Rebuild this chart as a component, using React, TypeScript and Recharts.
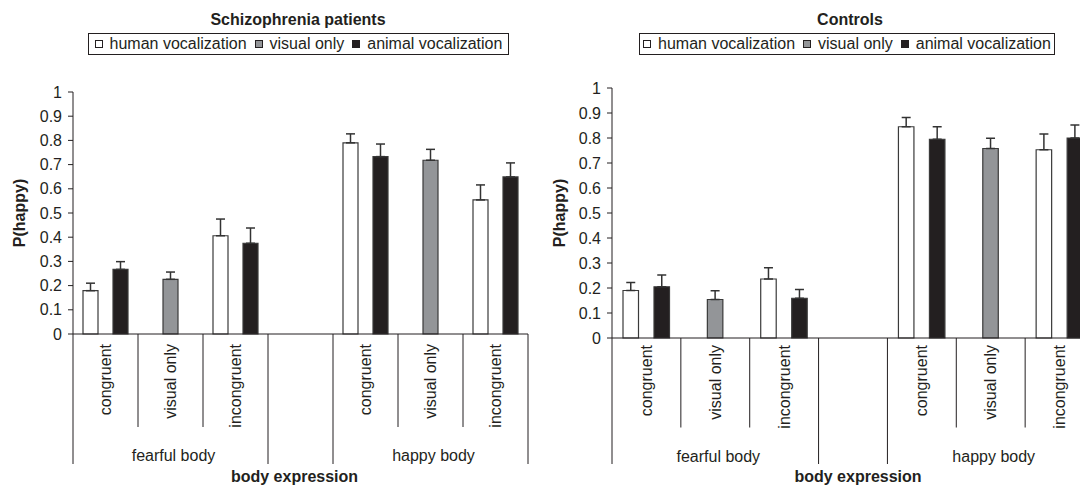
import React from 'react';
import { BarChart, Bar, XAxis, YAxis, ErrorBar, Legend } from 'recharts';

// x categories (slot 3 is the empty spacer between the two body groups)
const categories = ['congruent', 'visual only', 'incongruent', '', 'congruent', 'visual only', 'incongruent'];
const groupLabels = ['fearful body', 'happy body'];
const yTicks = [0, 0.1, 0.2, 0.3, 0.4, 0.5, 0.6, 0.7, 0.8, 0.9, 1];

const seriesNames = ['human vocalization', 'visual only', 'animal vocalization'];
const seriesColors = ['#ffffff', '#939598', '#231f20'];

// Schizophrenia patients: P(happy) and upper error
const humanSz = [0.179, null, 0.406, null, 0.79, null, 0.554];
const humanSzErr = [0.031, null, 0.069, null, 0.037, null, 0.062];
const visualSz = [null, 0.226, null, null, null, 0.718, null];
const visualSzErr = [null, 0.03, null, null, null, 0.045, null];
const animalSz = [0.267, null, 0.375, null, 0.733, null, 0.649];
const animalSzErr = [0.032, null, 0.063, null, 0.052, null, 0.058];

// Controls
const humanCt = [0.19, null, 0.236, null, 0.845, null, 0.753];
const humanCtErr = [0.032, null, 0.045, null, 0.037, null, 0.063];
const visualCt = [null, 0.154, null, null, null, 0.758, null];
const visualCtErr = [null, 0.035, null, null, null, 0.041, null];
const animalCt = [0.205, null, 0.159, null, 0.795, null, 0.8];
const animalCtErr = [0.047, null, 0.035, null, 0.05, null, 0.052];

const FONT = '"Liberation Sans", Arial, Helvetica, sans-serif';
const INK = '#231f20';

type Num = number | null;

function buildRows(h: Num[], he: Num[], v: Num[], ve: Num[], a: Num[], ae: Num[]) {
  const up = (e: Num) => (e == null ? null : [0, e]);
  return categories.map((c, i) => ({
    slot: String(i),
    human: h[i],
    humanErr: up(he[i]),
    visual: v[i],
    visualErr: up(ve[i]),
    animal: a[i],
    animalErr: up(ae[i]),
  }));
}

const szRows = buildRows(humanSz, humanSzErr, visualSz, visualSzErr, animalSz, animalSzErr);
const ctRows = buildRows(humanCt, humanCtErr, visualCt, visualCtErr, animalCt, animalCtErr);

interface TickCfg {
  half: number;
  labelTop: number;
  inner: number;
  outer: number;
  groupY: number;
  titleY: number;
  titleDx: number;
}

const makeTick = (cfg: TickCfg) => (props: any) => {
  const { x, y, payload, index } = props;
  const i = typeof index === 'number' ? index : payload.index;
  const half = payload && typeof payload.offset === 'number' && payload.offset > 0 ? payload.offset : cfg.half;
  const left = x - half;
  const right = x + half;
  const tall = i === 0 || i === 3 || i === 4;
  const txt = { fontFamily: FONT, fontSize: 16, fill: INK } as const;
  return (
    <g>
      <line x1={left} x2={left} y1={y} y2={y + (tall ? cfg.outer : cfg.inner)} stroke={INK} strokeWidth={1} />
      {i === categories.length - 1 && (
        <line x1={right} x2={right} y1={y} y2={y + cfg.outer} stroke={INK} strokeWidth={1} />
      )}
      {categories[i] !== '' && (
        <text
          transform={`translate(${x},${y + cfg.labelTop}) rotate(-90)`}
          textAnchor="end"
          dominantBaseline="central"
          {...txt}
        >
          {categories[i]}
        </text>
      )}
      {i === 1 && (
        <text x={x + 3} y={y + cfg.groupY} textAnchor="middle" dominantBaseline="central" {...txt}>
          {groupLabels[0]}
        </text>
      )}
      {i === 5 && (
        <text x={x + 3} y={y + cfg.groupY} textAnchor="middle" dominantBaseline="central" {...txt}>
          {groupLabels[1]}
        </text>
      )}
      {i === 3 && (
        <text x={x + cfg.titleDx} y={y + cfg.titleY} textAnchor="middle" dominantBaseline="central" {...txt} fontWeight="bold">
          body expression
        </text>
      )}
    </g>
  );
};

const renderLegend = (props: any) => {
  const payload = [...(props.payload || [])].sort(
    (a: any, b: any) => seriesNames.indexOf(a.value) - seriesNames.indexOf(b.value)
  );
  return (
    <div
      style={{
        border: `1px solid ${INK}`,
        height: 22,
        boxSizing: 'border-box',
        display: 'flex',
        alignItems: 'center',
        justifyContent: 'center',
        gap: 8,
        fontFamily: FONT,
        fontSize: 16,
        color: INK,
        background: '#fff',
        whiteSpace: 'nowrap',
      }}
    >
      {payload.map((p: any, k: number) => (
        <span key={k} style={{ display: 'inline-flex', alignItems: 'center' }}>
          <span
            style={{
              display: 'inline-block',
              width: 6,
              height: 6,
              border: `1px solid ${INK}`,
              background: seriesColors[seriesNames.indexOf(p.value)],
              marginRight: 7,
            }}
          />
          {p.value}
        </span>
      ))}
    </div>
  );
};

interface PanelProps {
  title: string;
  rows: any[];
  left: number;
  width: number;
  top: number;
  axisWidth: number;
  marginRight: number;
  xHeight: number;
  legendLeft: number;
  legendWidth: number;
  titleCenter: number;
  barSize: number;
  tick: TickCfg;
}

const Panel = (p: PanelProps) => {
  const yLabel = (lp: any) => {
    const vb = lp.viewBox || { x: 0, y: p.top, height: 485 - p.top - p.xHeight };
    return (
      <text
        transform={`translate(${vb.x + 19},${vb.y + vb.height / 2}) rotate(-90)`}
        textAnchor="middle"
        dominantBaseline="central"
        fontFamily={FONT}
        fontSize={16}
        fontWeight="bold"
        fill={INK}
      >
        P(happy)
      </text>
    );
  };
  const keys = ['human', 'visual', 'animal'];
  return (
    <div style={{ position: 'absolute', left: p.left, top: 0, width: p.width, height: 485 }}>
      <div
        style={{
          position: 'absolute',
          left: p.titleCenter - 150,
          top: 10,
          width: 300,
          textAlign: 'center',
          fontFamily: FONT,
          fontSize: 16,
          fontWeight: 'bold',
          lineHeight: '20px',
          color: INK,
        }}
      >
        {p.title}
      </div>
      <BarChart
        width={p.width}
        height={485}
        data={p.rows}
        margin={{ top: p.top, right: p.marginRight, bottom: 0, left: 0 }}
        barGap={0}
      >
        <Legend
          layout="horizontal"
          verticalAlign="middle"
          align="center"
          content={renderLegend}
          wrapperStyle={{ left: p.legendLeft, top: 33, width: p.legendWidth, height: 22 }}
        />
        <XAxis
          dataKey="slot"
          height={p.xHeight}
          interval={0}
          tickSize={0}
          tickMargin={0}
          tickLine={false}
          axisLine={{ stroke: INK, strokeWidth: 1 }}
          tick={makeTick(p.tick)}
        />
        <YAxis
          domain={[0, 1]}
          ticks={yTicks}
          interval={0}
          width={p.axisWidth}
          tickSize={5}
          tickMargin={6}
          axisLine={{ stroke: INK, strokeWidth: 1 }}
          tickLine={{ stroke: INK, strokeWidth: 1 }}
          tick={{ fontFamily: FONT, fontSize: 16, fill: INK }}
          tickFormatter={(v: number) => String(v)}
          label={{ content: yLabel }}
        />
        {keys.map((k, s) => (
          <Bar
            key={k}
            dataKey={k}
            name={seriesNames[s]}
            fill={seriesColors[s]}
            stroke="#3a3a3a"
            strokeWidth={1.2}
            barSize={p.barSize}
            isAnimationActive={false}
          >
            <ErrorBar dataKey={`${k}Err`} width={4.5} stroke="#333333" strokeWidth={1.5} direction="y" />
          </Bar>
        ))}
      </BarChart>
    </div>
  );
};

export default function App() {
  return (
    <div
      style={{
        position: 'absolute',
        left: 0,
        top: 0,
        width: 1080,
        height: 485,
        overflow: 'hidden',
        background: '#ffffff',
      }}
    >
      <Panel
        title="Schizophrenia patients"
        rows={szRows}
        left={0}
        width={540}
        top={92}
        axisWidth={73}
        marginRight={12}
        xHeight={151}
        legendLeft={88}
        legendWidth={421}
        titleCenter={298}
        barSize={15}
        tick={{ half: 32.5, labelTop: 10, inner: 93, outer: 130, groupY: 121, titleY: 142, titleDx: -6 }}
      />
      <Panel
        title="Controls"
        rows={ctRows}
        left={540}
        width={560}
        top={88}
        axisWidth={72}
        marginRight={6}
        xHeight={147}
        legendLeft={99}
        legendWidth={416}
        titleCenter={310}
        barSize={15.5}
        tick={{ half: 34.4, labelTop: 7, inner: 89.5, outer: 126, groupY: 118, titleY: 138.5, titleDx: 5 }}
      />
    </div>
  );
}
